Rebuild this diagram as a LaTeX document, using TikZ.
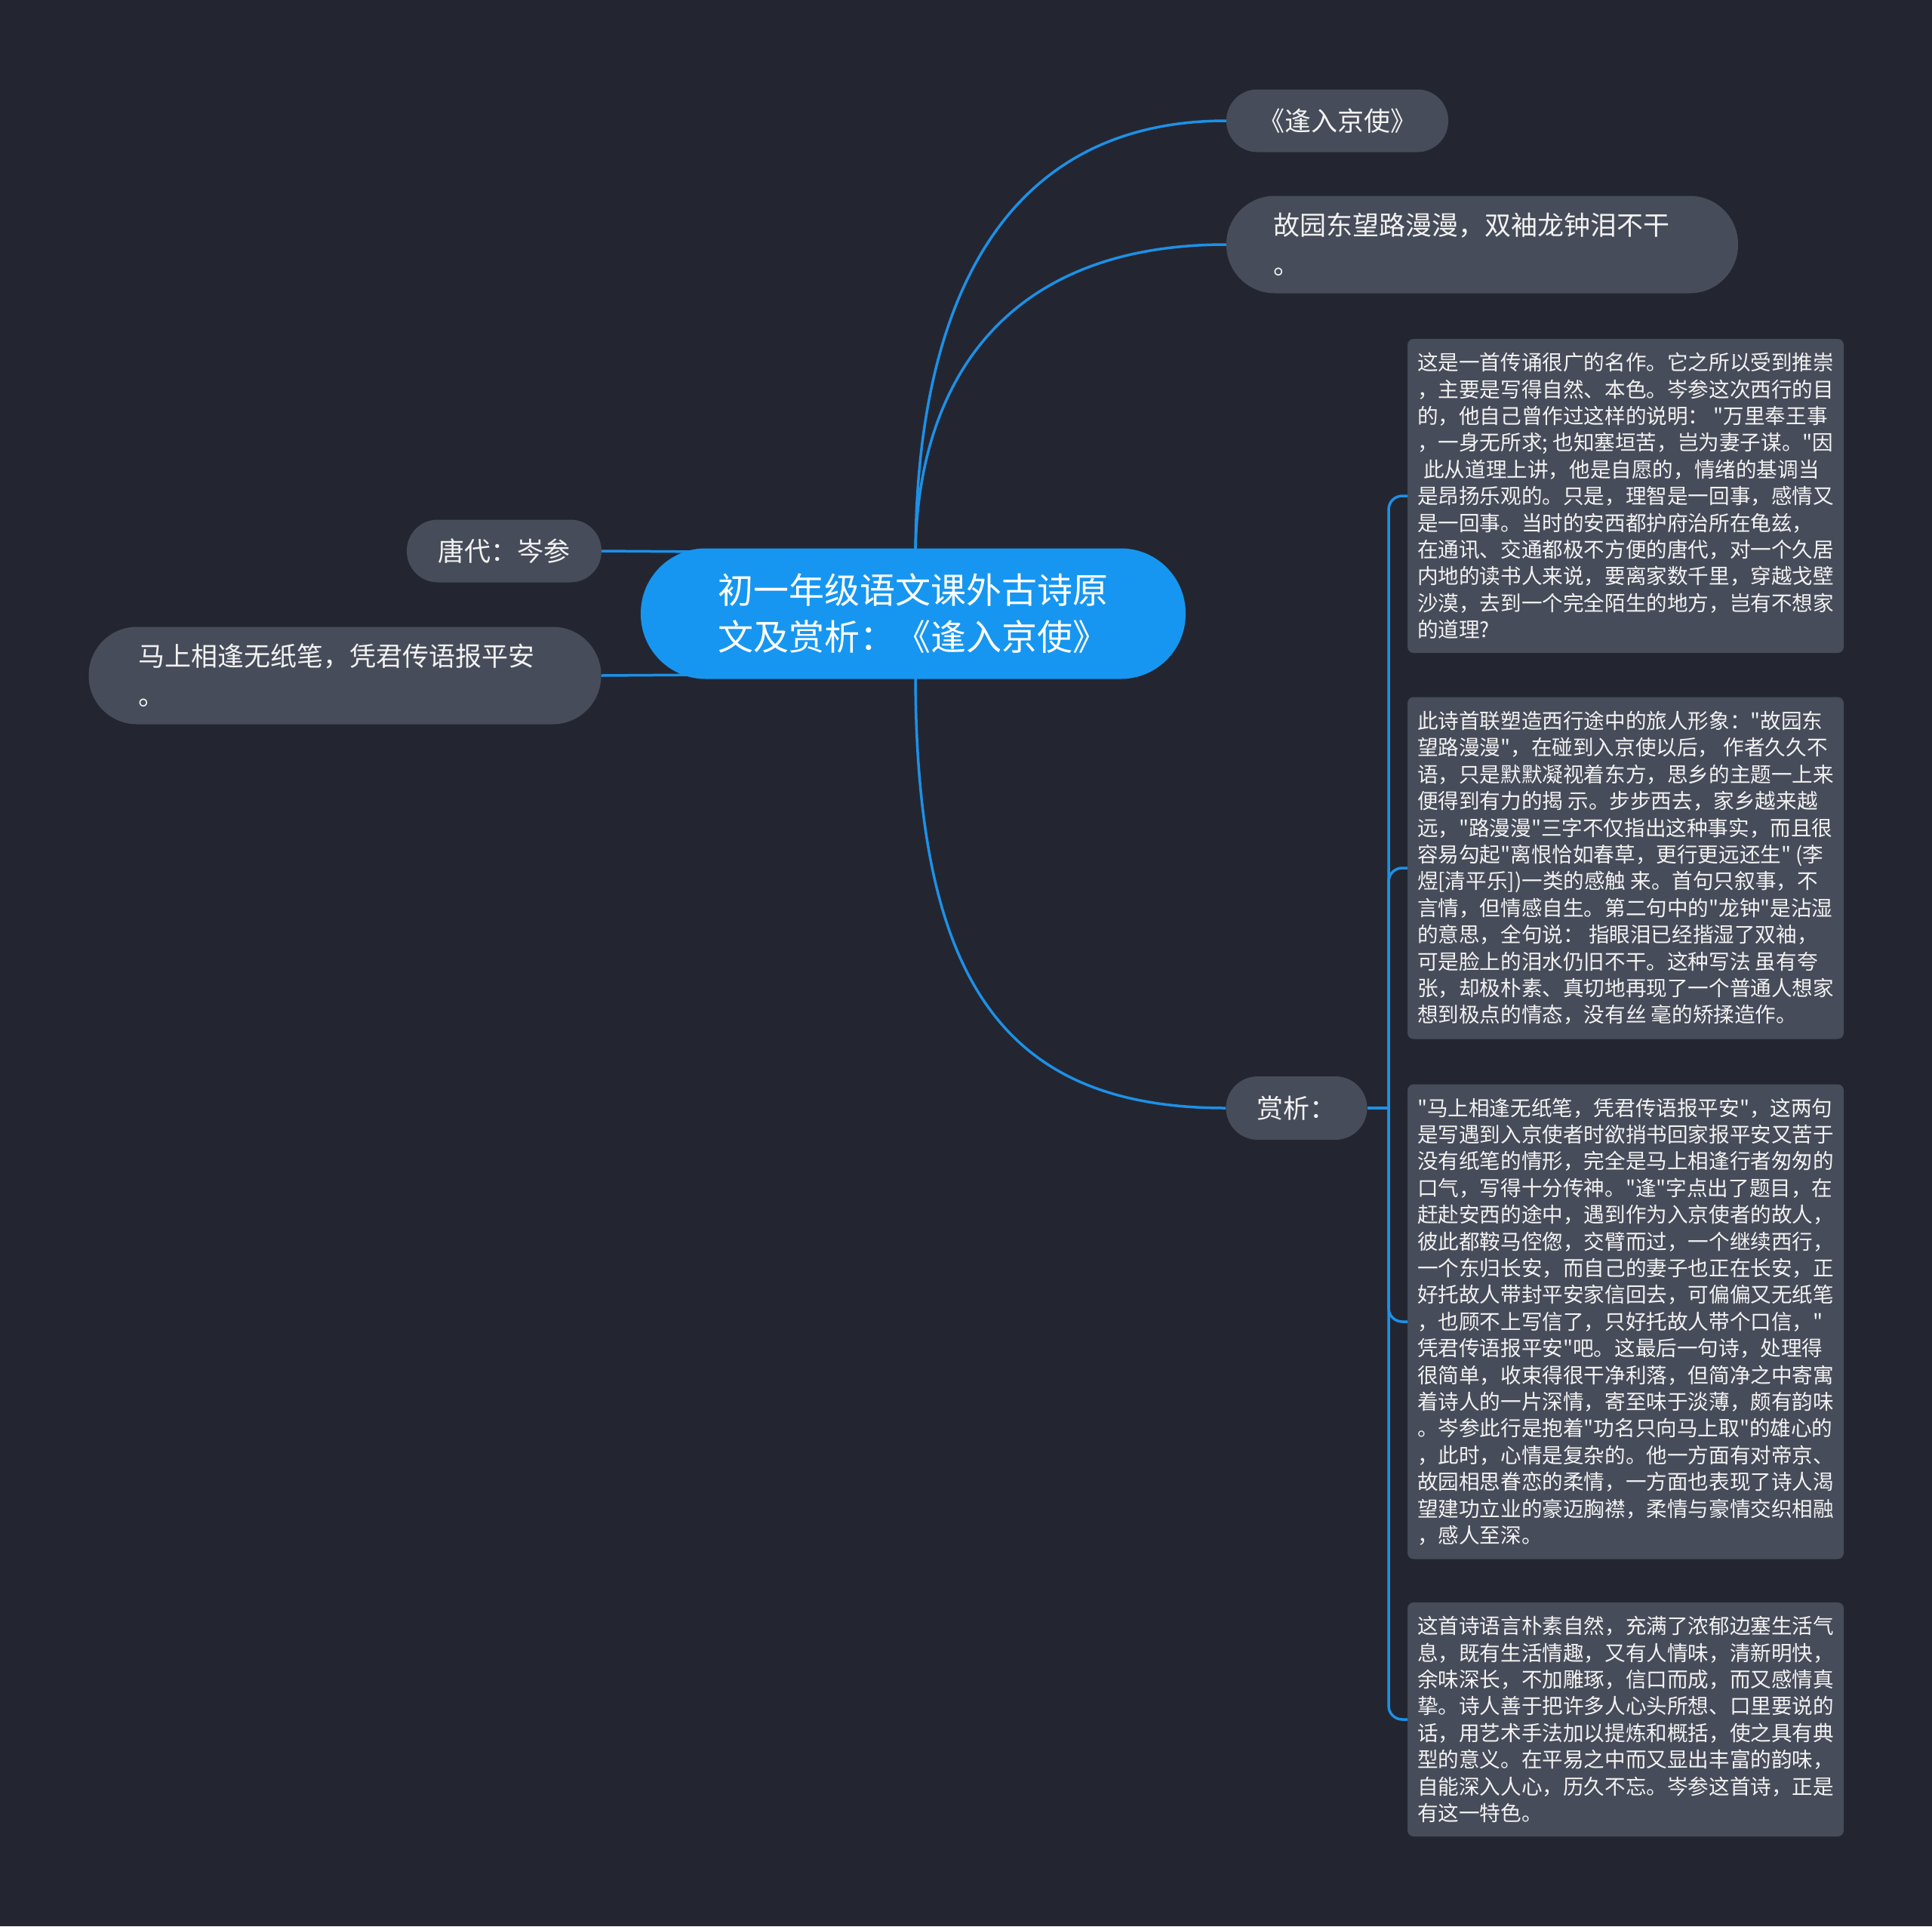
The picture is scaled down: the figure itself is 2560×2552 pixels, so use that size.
\documentclass[tikz,border=0pt]{standalone}
\usepackage{fontspec}
\setmainfont{Noto Sans CJK SC}[Ligatures=TeXOff]
\usetikzlibrary{backgrounds}
\definecolor{bgc}{RGB}{35,38,49}
\definecolor{nodec}{RGB}{71,76,90}
\definecolor{linec}{RGB}{30,144,230}
\definecolor{rootc}{RGB}{22,150,240}
\definecolor{txtc}{RGB}{242,242,242}
\tikzset{
 pill/.style={fill=nodec, text=txtc, inner sep=0pt, align=left, font=\fontsize{35pt}{52pt}\selectfont},
 textbox/.style={fill=nodec, text=txtc, rounded corners=8pt, inner sep=0pt, minimum width=578pt, align=left, font=\fontsize{27.6pt}{35.4pt}\selectfont},
 conn/.style={draw=linec, line width=3.5pt}
}
\begin{document}
\begin{tikzpicture}[x=1pt,y=-1pt]
\useasboundingbox (0,0) rectangle (2560,2552);
\node[fill=rootc, text=white, rounded corners=86pt, minimum width=722pt, minimum height=173pt, align=left, inner sep=0pt, font=\fontsize{47pt}{62pt}\selectfont] (c) at (1210,813) {初一年级语文课外古诗原\\文及赏析：《逢入京使》};
\node[pill, rounded corners=41pt, minimum width=294pt, minimum height=83pt] (n1) at (1772,160) {《逢入京使》};
\node[pill, rounded corners=64pt, minimum width=678pt, minimum height=129pt, text width=554pt] (n2) at (1964,324) {故园东望路漫漫，双袖龙钟泪不干\\。};
\node[pill, rounded corners=41pt, minimum width=258pt, minimum height=83pt] (t) at (668,730) {唐代：岑参};
\node[pill, rounded corners=64pt, minimum width=679pt, minimum height=129pt, text width=548pt] (m) at (457,895) {马上相逢无纸笔，凭君传语报平安\\。};
\node[pill, rounded corners=42pt, minimum width=187pt, minimum height=84pt] (s) at (1718,1468) {赏析：};
\node[textbox, minimum height=416pt] (b1) at (2154,657) {这是一首传诵很广的名作。它之所以受到推崇\\，主要是写得自然、本色。岑参这次西行的目\\的，他自己曾作过这样的说明： "万里奉王事\\，一身无所求; 也知塞垣苦，岂为妻子谋。"因\\\hspace*{0.3em}此从道理上讲，他是自愿的，情绪的基调当\\是昂扬乐观的。只是，理智是一回事，感情又\\是一回事。当时的安西都护府治所在龟兹，\\在通讯、交通都极不方便的唐代，对一个久居\\内地的读书人来说，要离家数千里，穿越戈壁\\沙漠，去到一个完全陌生的地方，岂有不想家\\的道理?};
\node[textbox, minimum height=453pt] (b2) at (2154,1150) {此诗首联塑造西行途中的旅人形象："故园东\\望路漫漫"，在碰到入京使以后， 作者久久不\\语，只是默默凝视着东方，思乡的主题一上来\\便得到有力的揭 示。步步西去，家乡越来越\\远，"路漫漫"三字不仅指出这种事实，而且很\\容易勾起"离恨恰如春草，更行更远还生" (李\\煜[清平乐])一类的感触 来。首句只叙事，不\\言情，但情感自生。第二句中的"龙钟"是沾湿\\的意思，全句说： 指眼泪已经揩湿了双袖，\\可是脸上的泪水仍旧不干。这种写法 虽有夸\\张，却极朴素、真切地再现了一个普通人想家\\想到极点的情态，没有丝 毫的矫揉造作。};
\node[textbox, minimum height=629pt] (b3) at (2154,1751) {"马上相逢无纸笔，凭君传语报平安"，这两句\\是写遇到入京使者时欲捎书回家报平安又苦于\\没有纸笔的情形，完全是马上相逢行者匆匆的\\口气，写得十分传神。"逢"字点出了题目，在\\赶赴安西的途中，遇到作为入京使者的故人，\\彼此都鞍马倥偬，交臂而过，一个继续西行，\\一个东归长安，而自己的妻子也正在长安，正\\好托故人带封平安家信回去，可偏偏又无纸笔\\，也顾不上写信了，只好托故人带个口信，"\\凭君传语报平安"吧。这最后一句诗，处理得\\很简单，收束得很干净利落，但简净之中寄寓\\着诗人的一片深情，寄至味于淡薄，颇有韵味\\。岑参此行是抱着"功名只向马上取"的雄心的\\，此时，心情是复杂的。他一方面有对帝京、\\故园相思眷恋的柔情，一方面也表现了诗人渴\\望建功立业的豪迈胸襟，柔情与豪情交织相融\\，感人至深。};
\node[textbox, minimum height=310pt] (b4) at (2154,2278) {这首诗语言朴素自然，充满了浓郁边塞生活气\\息，既有生活情趣，又有人情味，清新明快，\\余味深长，不加雕琢，信口而成，而又感情真\\挚。诗人善于把许多人心头所想、口里要说的\\话，用艺术手法加以提炼和概括，使之具有典\\型的意义。在平易之中而又显出丰富的韵味，\\自能深入人心，历久不忘。岑参这首诗，正是\\有这一特色。};
\begin{scope}[on background layer]
\fill[bgc] (0,0) rectangle (2560,2552);
\coordinate (ctop) at (1213,740);
\coordinate (cbot) at (1213,890);
\draw[conn] (ctop) .. controls (1213,400) and (1330,160) .. (n1.west);
\draw[conn] (ctop) .. controls (1213,520) and (1320,324) .. (n2.west);
\draw[conn] (cbot) .. controls (1213,1300) and (1330,1468) .. (s.west);
\coordinate (tl) at (930,731);
\coordinate (ml) at (930,894);
\draw[conn] (t.east) -- (tl);
\draw[conn] (m.east) -- (ml);
\coordinate (j) at (1840,1468);
\draw[conn] (s.east) -- (j);
\foreach \b in {b1,b2,b3,b4} \draw[conn, rounded corners=18pt] (j) |- (\b.west);
\end{scope}
\end{tikzpicture}
\end{document}
